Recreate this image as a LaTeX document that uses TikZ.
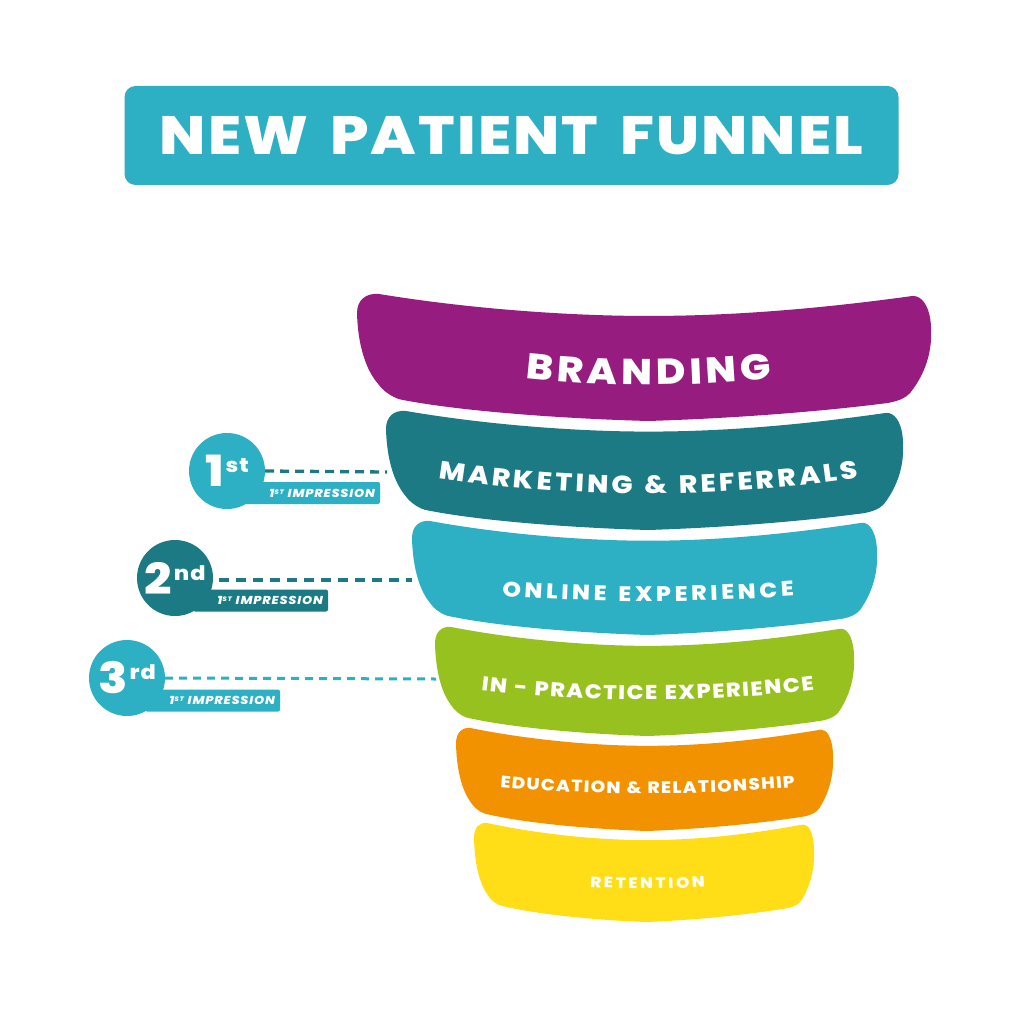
\documentclass[tikz,border=0pt]{standalone}
\usepackage{fontspec}
\usetikzlibrary{decorations.text}
\setmainfont{Poppins}
\newfontfamily\xb{Poppins}[UprightFont=* ExtraBold,ItalicFont=* ExtraBold Italic,FakeStretch=1.12]
\definecolor{cpurple}{HTML}{961C7F}
\definecolor{cteal}{HTML}{1B7A83}
\definecolor{ccyan}{HTML}{2DB0C4}
\definecolor{cgreen}{HTML}{96C11F}
\definecolor{corange}{HTML}{F39200}
\definecolor{cyellow}{HTML}{FFDE17}
\newcommand{\fs}[1]{\fontsize{#1}{#1}\selectfont}
\newcommand{\funnelband}[5]{% color xl xr top bottom
  \pgfmathsetmacro{\cxx}{(#2+#3)/2}
  \pgfmathsetmacro{\hw}{(#3-#2)/2}
  \pgfmathsetmacro{\hh}{#5-#4}
  \begin{scope}[shift={(\cxx,#4)},x=\hw pt,y=-\hh pt]
  \fill[#1] (-.923,0) .. controls (-.6,.12) and (-.25,.173) .. (.014,.173)
    .. controls (.3,.173) and (.6,.12) .. (.934,.016)
    .. controls (.97,.01) and (.99,.1) .. (.997,.19)
    .. controls (1.01,.4) and (.99,.6) .. (.927,.78)
    .. controls (.91,.82) and (.89,.84) .. (.85,.858)
    .. controls (.6,.93) and (.3,.98) .. (.014,1)
    .. controls (-.3,.98) and (-.65,.92) .. (-.85,.83)
    .. controls (-.88,.81) and (-.91,.76) .. (-.923,.717)
    .. controls (-.97,.6) and (-.997,.4) .. (-1,.15)
    .. controls (-1,.05) and (-.97,-.01) .. (-.923,0) -- cycle;
  \end{scope}}
\newcommand{\arctext}[6]{% size xl yl xr yr-and-depth text
  \path[decorate,decoration={text along path,text color=white,text align={fit to path},
    text={|\xb\fs{#1}|#6}}]
    (#2,#3) .. controls ({#2+(#4-#2)*.33},#5) and ({#2+(#4-#2)*.67},#5) .. (#4,#3);}
\tikzset{
  x=1pt,y=-1pt,
  badge/.style={circle,minimum size=76pt,inner sep=0pt,text=white},
  tagbox/.style={rounded corners=2pt,minimum height=22pt,text width=125pt,inner sep=0pt,
    inner xsep=5pt,align=right,text=white,font=\xb\itshape\fs{11.5}},
  link/.style={dashed,line cap=butt}
}
\newcommand{\tagtext}{\addfontfeature{LetterSpace=7}1\raisebox{3pt}{\fs{6.5}ST} IMPRESSION}
\newcommand{\badgetext}[2]{\xb\fs{43}#1\hspace{2pt}\raisebox{14pt}{\fs{20}\addfontfeature{LetterSpace=5}#2}}
\begin{document}
\begin{tikzpicture}
\useasboundingbox (0,0) rectangle (1024,1024);
\fill[white] (0,0) rectangle (1024,1024);
% title
\node (title) [fill=ccyan,rounded corners=11pt,minimum width=774pt,minimum height=99pt,inner sep=0pt,
  text=white,font=\xb\fs{54}] at (511.5,135.5) {\addfontfeature{LetterSpace=4}NEW\hspace{8pt} PATIENT\hspace{8pt} FUNNEL};
% funnel
\funnelband{cpurple}{357}{931}{294}{421}
\funnelband{cteal}{386}{903}{411}{530}
\funnelband{ccyan}{412}{877}{521}{635}
\funnelband{cgreen}{435}{854}{627}{736}
\funnelband{corange}{456}{833}{728}{831}
\funnelband{cyellow}{474}{814}{823}{922}
\arctext{36}{525}{378}{772}{387}{BRANDING}
\arctext{25}{438}{478}{858}{499}{MARKETING {\&} REFERRALS}
\arctext{21}{502}{596}{794}{603}{ONLINE EXPERIENCE}
\arctext{20}{481}{690}{814}{703}{IN - PRACTICE EXPERIENCE}
\arctext{16.5}{500}{787}{795}{796}{EDUCATION {\&} RELATIONSHIP}
\arctext{15}{590}{887}{705}{889}{RETENTION}
% tags
\node (t1) [tagbox,fill=ccyan] at (312.5,493) {\tagtext};
\node (t2) [tagbox,fill=cteal] at (260.5,600.5) {\tagtext};
\node (t3) [tagbox,fill=ccyan] at (212.5,700.5) {\tagtext};
% badges
\node (b1) [badge,fill=ccyan] at (227,471) {\badgetext{1}{st}};
\node (b2) [badge,fill=cteal] at (175,578) {\badgetext{2}{nd}};
\node (b3) [badge,fill=ccyan] at (127,678) {\badgetext{3}{rd}};
% connectors
\coordinate (f1) at (387,472);
\coordinate (f2) at (412,580);
\coordinate (f3) at (436,679);
\draw[link,cteal,line width=3.3pt,dash pattern=on 9pt off 6pt] (b1.east) -- (f1);
\draw[link,cteal,line width=3.8pt,dash pattern=on 10pt off 7pt,shorten <=6pt] (b2.east) ++(0,2) -- (f2);
\draw[link,ccyan,line width=3pt,dash pattern=on 8pt off 6pt] (b3.east) -- (f3);
\end{tikzpicture}
\end{document}
